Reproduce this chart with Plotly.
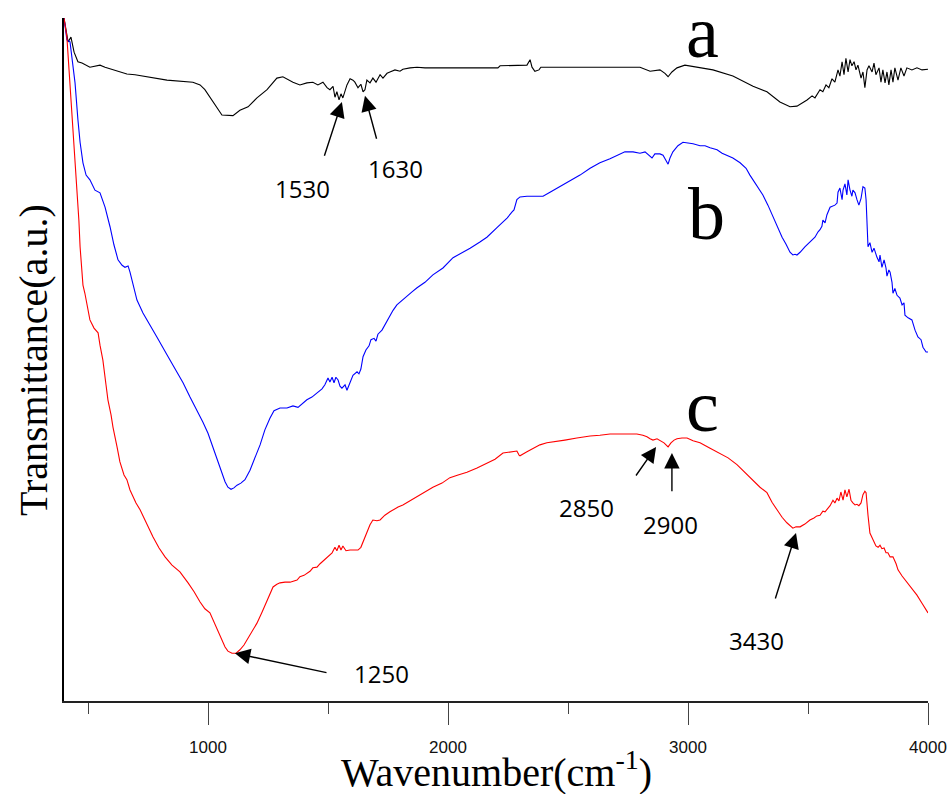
import plotly.graph_objects as go

# FTIR spectra: wavenumber (cm^-1) vs transmittance (arbitrary units)
wn_a = [400, 417, 429, 442, 458, 475, 508, 529, 550, 571, 604, 633, 662, 696, 746, 829, 937, 967, 987, 1008,
        1033, 1058, 1104, 1133, 1167, 1204, 1246, 1287, 1312, 1354, 1383, 1412, 1437, 1458, 1479, 1496, 1508,
        1521, 1529, 1537, 1546, 1554, 1562, 1579, 1592, 1604, 1612, 1625, 1637, 1646, 1654, 1662, 1675, 1687,
        1700, 1717, 1729, 1746, 1758, 1779, 1800, 1812, 1842, 1871, 1904, 1937, 2062, 2208, 2217, 2287, 2300,
        2329, 2342, 2350, 2362, 2379, 2387, 2800, 2842, 2883, 2904, 2917, 2933, 2954, 2987, 3037, 3104, 3187,
        3271, 3329, 3383, 3425, 3454, 3496, 3517, 3529, 3550, 3562, 3575, 3587, 3600, 3612, 3625, 3633, 3642,
        3650, 3658, 3667, 3675, 3683, 3692, 3700, 3708, 3721, 3729, 3737, 3746, 3754, 3767, 3775, 3783, 3796,
        3804, 3812, 3821, 3829, 3837, 3846, 3854, 3862, 3875, 3887, 3900, 3912, 3933, 3954, 3975, 4000]
t_a = [100.0, 96.5, 97.2, 95.0, 93.6, 93.4, 92.8, 93.0, 93.1, 92.8, 92.4, 92.1, 91.8, 91.7, 91.4, 90.9, 90.6,
       90.2, 89.5, 88.4, 87.1, 85.8, 85.7, 86.5, 87.0, 88.3, 89.5, 91.2, 91.4, 90.6, 90.2, 90.5, 90.6, 90.2,
       90.6, 89.8, 89.5, 90.0, 88.4, 89.2, 88.0, 88.9, 88.3, 90.2, 91.1, 90.9, 90.6, 89.8, 90.3, 89.2, 89.5,
       90.9, 90.5, 91.2, 90.6, 91.7, 91.2, 91.9, 92.1, 92.4, 92.2, 92.5, 92.7, 92.8, 92.7, 92.7, 92.7, 92.7,
       93.0, 93.0, 93.1, 93.1, 93.9, 92.8, 92.2, 92.4, 92.8, 92.8, 92.2, 92.4, 91.9, 91.4, 92.1, 92.7, 93.1,
       92.8, 92.4, 91.5, 90.0, 89.2, 87.7, 87.0, 87.1, 88.0, 88.6, 88.3, 89.5, 89.2, 90.2, 89.8, 91.1, 90.6,
       92.4, 91.5, 93.6, 91.7, 94.1, 92.1, 93.9, 93.0, 93.6, 92.4, 93.1, 91.2, 92.1, 89.8, 92.4, 93.0, 92.1,
       93.4, 91.7, 92.7, 90.6, 92.4, 90.5, 92.1, 90.2, 92.4, 90.6, 92.7, 90.9, 92.7, 91.5, 92.7, 92.4, 92.7,
       92.4, 92.5]

wn_b = [400, 412, 425, 433, 446, 458, 467, 479, 492, 508, 529, 550, 571, 592, 608, 625, 642, 654, 667, 675,
        704, 729, 758, 787, 829, 871, 896, 925, 954, 979, 1000, 1017, 1029, 1046, 1058, 1071, 1083, 1096, 1108,
        1121, 1137, 1154, 1175, 1196, 1217, 1237, 1258, 1275, 1300, 1329, 1354, 1375, 1396, 1412, 1433, 1454,
        1475, 1487, 1500, 1508, 1517, 1525, 1533, 1542, 1550, 1558, 1571, 1579, 1592, 1604, 1621, 1629, 1637,
        1646, 1658, 1671, 1679, 1692, 1700, 1708, 1725, 1737, 1750, 1771, 1787, 1812, 1829, 1850, 1871, 1904,
        1937, 1979, 2021, 2058, 2092, 2133, 2162, 2204, 2246, 2267, 2275, 2287, 2300, 2329, 2362, 2396, 2425,
        2454, 2487, 2521, 2550, 2592, 2633, 2675, 2704, 2737, 2771, 2800, 2821, 2842, 2850, 2862, 2883, 2896,
        2908, 2917, 2925, 2937, 2958, 2979, 3000, 3021, 3050, 3071, 3092, 3121, 3142, 3162, 3187, 3217, 3242,
        3258, 3271, 3292, 3312, 3333, 3354, 3375, 3392, 3408, 3425, 3437, 3446, 3454, 3467, 3487, 3508, 3529,
        3542, 3550, 3558, 3562, 3571, 3579, 3592, 3604, 3612, 3621, 3625, 3633, 3642, 3646, 3654, 3662, 3667,
        3675, 3683, 3687, 3696, 3704, 3712, 3721, 3729, 3737, 3742, 3750, 3758, 3767, 3775, 3787, 3796, 3800,
        3808, 3817, 3825, 3829, 3837, 3842, 3850, 3854, 3862, 3871, 3883, 3892, 3900, 3904, 3917, 3933, 3946,
        3958, 3971, 3979, 3992, 4000]
t_b = [100.0, 96.8, 96.5, 93.9, 90.5, 85.1, 81.8, 78.8, 77.0, 76.3, 74.8, 74.4, 72.3, 69.4, 66.8, 64.6, 63.8,
       63.5, 63.7, 62.8, 58.7, 56.8, 55.1, 53.3, 50.7, 48.0, 46.6, 44.5, 42.6, 40.8, 39.2, 37.5, 36.5, 34.6,
       33.4, 32.1, 31.3, 31.0, 31.2, 31.6, 31.9, 32.4, 33.8, 35.6, 37.5, 39.7, 41.4, 42.5, 42.9, 42.9, 43.2,
       43.0, 43.6, 44.1, 44.5, 45.1, 45.7, 46.3, 47.3, 46.7, 47.4, 46.6, 47.4, 47.0, 46.1, 45.8, 46.3, 45.5,
       46.6, 47.7, 48.2, 47.9, 48.6, 50.4, 51.4, 52.0, 52.9, 53.1, 52.7, 53.7, 54.3, 55.1, 55.9, 57.2, 58.0,
       58.7, 59.3, 59.9, 60.5, 61.3, 62.4, 63.4, 64.9, 65.6, 66.3, 67.2, 67.9, 69.3, 70.7, 71.6, 71.9, 73.4,
       73.8, 73.9, 73.9, 73.9, 74.5, 75.1, 75.7, 76.4, 77.0, 78.0, 78.8, 79.4, 79.9, 80.4, 80.4, 80.2, 80.4,
       79.8, 79.5, 80.1, 80.1, 79.9, 79.2, 78.6, 79.5, 80.4, 81.3, 81.8, 81.7, 81.6, 81.3, 81.3, 81.0, 80.7,
       80.2, 79.9, 79.5, 78.8, 78.0, 77.0, 76.3, 75.1, 74.1, 72.6, 70.9, 69.3, 67.9, 66.9, 65.7, 65.3, 65.4,
       65.3, 65.7, 66.5, 67.2, 67.9, 68.7, 69.0, 69.5, 70.4, 70.0, 71.2, 72.3, 72.5, 72.6, 72.9, 74.5, 75.1,
       73.4, 74.8, 75.7, 74.1, 76.3, 74.8, 73.9, 74.8, 74.4, 73.4, 72.6, 73.6, 75.3, 75.1, 73.4, 66.5, 67.1,
       65.7, 66.3, 65.0, 64.3, 65.3, 63.5, 64.6, 63.4, 62.2, 63.1, 62.8, 61.3, 59.7, 60.4, 59.4, 59.0, 58.0,
       58.3, 56.5, 56.1, 55.8, 54.3, 53.3, 52.9, 51.8, 51.1, 51.1]

wn_c = [400, 408, 412, 421, 433, 442, 454, 462, 467, 475, 479, 487, 500, 508, 525, 542, 550, 562, 575, 583,
        596, 604, 621, 633, 650, 662, 675, 683, 700, 717, 746, 771, 796, 821, 850, 883, 917, 942, 967, 987,
        1008, 1025, 1037, 1054, 1071, 1083, 1100, 1117, 1133, 1150, 1162, 1179, 1204, 1225, 1246, 1271, 1287,
        1300, 1321, 1342, 1371, 1383, 1400, 1412, 1425, 1437, 1454, 1467, 1479, 1492, 1504, 1517, 1529, 1537,
        1546, 1554, 1562, 1575, 1592, 1608, 1625, 1637, 1646, 1654, 1662, 1675, 1687, 1704, 1717, 1737, 1758,
        1771, 1792, 1812, 1842, 1871, 1904, 1937, 1975, 2008, 2042, 2079, 2121, 2162, 2196, 2229, 2258, 2287,
        2296, 2300, 2329, 2354, 2383, 2412, 2437, 2487, 2537, 2592, 2633, 2675, 2717, 2758, 2787, 2812, 2829,
        2842, 2854, 2871, 2883, 2900, 2917, 2929, 2942, 2954, 2975, 2996, 3021, 3050, 3092, 3133, 3167, 3204,
        3237, 3271, 3300, 3329, 3350, 3371, 3392, 3412, 3425, 3437, 3450, 3467, 3487, 3508, 3525, 3537, 3550,
        3562, 3571, 3579, 3592, 3604, 3612, 3621, 3629, 3637, 3646, 3654, 3662, 3671, 3679, 3687, 3696, 3704,
        3712, 3721, 3729, 3737, 3742, 3750, 3758, 3771, 3783, 3792, 3800, 3808, 3817, 3825, 3833, 3842, 3854,
        3867, 3875, 3892, 3912, 3933, 3954, 3975, 3987, 3996, 4000]
t_c = [100.0, 98.5, 97.2, 92.4, 86.1, 80.7, 75.3, 70.4, 66.5, 62.8, 60.9, 59.7, 57.2, 55.8, 54.6, 53.9, 52.1,
       49.9, 46.3, 44.1, 41.9, 40.1, 37.2, 35.0, 33.1, 32.4, 30.9, 30.2, 29.0, 28.0, 25.8, 24.0, 22.4, 21.1,
       19.9, 18.9, 17.3, 16.0, 14.5, 13.5, 12.9, 11.6, 10.7, 9.2, 7.9, 7.3, 7.0, 7.0, 7.5, 8.2, 8.9, 10.1,
       11.4, 13.0, 14.8, 16.7, 17.1, 17.3, 17.4, 17.4, 17.7, 18.2, 18.4, 18.7, 19.0, 19.5, 19.6, 20.1, 20.5,
       20.9, 21.2, 21.7, 22.5, 22.0, 22.8, 22.1, 22.7, 22.0, 22.1, 22.1, 22.1, 22.5, 23.3, 24.0, 24.6, 25.8,
       26.5, 26.4, 26.5, 27.2, 27.7, 28.0, 28.4, 28.7, 29.3, 29.9, 30.6, 31.3, 31.9, 32.7, 33.1, 33.5, 34.1,
       34.8, 35.4, 36.3, 36.5, 36.6, 36.0, 35.9, 36.5, 37.0, 37.5, 37.8, 37.9, 38.2, 38.5, 38.8, 38.9, 39.1,
       39.1, 39.1, 39.1, 38.9, 38.7, 38.4, 38.2, 38.4, 38.2, 37.8, 37.2, 37.8, 38.2, 38.4, 38.5, 38.5, 38.1,
       37.8, 37.0, 36.3, 35.6, 34.6, 33.5, 32.4, 31.3, 30.5, 29.1, 28.0, 26.9, 26.1, 25.6, 25.3, 25.5, 25.5,
       25.9, 26.5, 26.8, 27.1, 27.2, 27.8, 27.7, 28.0, 28.6, 29.4, 29.0, 29.7, 29.3, 30.6, 29.4, 30.9, 29.9,
       31.0, 29.4, 29.0, 28.7, 28.8, 28.6, 29.0, 30.2, 30.7, 30.5, 27.2, 24.6, 23.6, 22.7, 22.5, 22.8, 22.3,
       22.4, 21.7, 21.7, 21.1, 21.1, 20.1, 19.2, 18.3, 17.4, 16.5, 15.5, 14.3, 13.6, 13.0, 12.9]

# Curve tags (text, wavenumber, transmittance)
curve_tags = [("a", 3062, 98.0), ("b", 3075, 71.3), ("c", 3062, 43.2)]

# Band annotations: label, label position, arrow tip, arrow tail
band_labels = ["1530", "1630", "1250", "2850", "2900", "3430"]
label_wn = [1392, 1783, 1721, 2575, 2929, 3287]
label_t = [75.0, 77.9, 4.0, 28.4, 25.9, 8.8]
tip_wn = [1558, 1654, 1112, 2867, 2933, 3450]
tip_t = [87.7, 88.6, 7.0, 37.2, 36.3, 24.6]
tail_wn = [1483, 1704, 1500, 2779, 2933, 3362]
tail_t = [79.6, 82.1, 4.1, 32.8, 30.5, 14.8]

x_major = [1000, 2000, 3000, 4000]
x_minor = [500, 1500, 2500, 3500]

fig = go.Figure()
for wn, t, col in [(wn_a, t_a, "#000000"), (wn_b, t_b, "#0000ff"), (wn_c, t_c, "#ff0000")]:
    fig.add_trace(go.Scatter(x=wn, y=t, mode="lines", line=dict(color=col, width=1.1),
                             showlegend=False, hoverinfo="skip"))

annotations = []
for txt, x, y in curve_tags:
    annotations.append(dict(x=x, y=y, xref="x", yref="y", text=txt, showarrow=False,
                            font=dict(family="Liberation Serif", size=74, color="black"),
                            xanchor="center", yanchor="middle"))

for lab, lx, ly, tx, ty, ax, ay in zip(band_labels, label_wn, label_t, tip_wn, tip_t, tail_wn, tail_t):
    annotations.append(dict(x=tx, y=ty, xref="x", yref="y", ax=ax, ay=ay, axref="x", ayref="y",
                            text="", showarrow=True, arrowhead=2, arrowsize=2.2, arrowwidth=1.4,
                            arrowcolor="black", standoff=0, startstandoff=0))
    annotations.append(dict(x=lx, y=ly, xref="x", yref="y", text=lab, showarrow=False,
                            font=dict(family="Open Sans", size=24, color="black"),
                            xanchor="center", yanchor="middle"))

annotations.append(dict(x=0.5, y=-0.1, xref="paper", yref="paper",
                        text="Wavenumber(cm<sup>-1</sup>)", showarrow=False,
                        font=dict(family="Liberation Serif", size=40, color="black"),
                        xanchor="center", yanchor="middle"))
annotations.append(dict(x=-0.036, y=0.499, xref="paper", yref="paper",
                        text="Transmittance(a.u.)", showarrow=False, textangle=-90,
                        font=dict(family="Liberation Serif", size=40, color="black"),
                        xanchor="center", yanchor="middle"))

fig.update_layout(
    width=952, height=794, autosize=False,
    margin=dict(l=64, r=24, t=18, b=93, autoexpand=False),
    paper_bgcolor="white", plot_bgcolor="white",
    annotations=annotations,
    xaxis=dict(range=[400, 4000], showgrid=False, zeroline=False, automargin=False,
               showline=True, linecolor="#222222", linewidth=1.6,
               tickmode="array", tickvals=x_major, ticktext=[str(v) for v in x_major],
               ticks="outside", ticklen=22, tickwidth=1, tickcolor="#444444",
               ticklabelstandoff=8,
               tickfont=dict(family="Liberation Sans", size=17, color="#111111"),
               minor=dict(tickmode="array", tickvals=x_minor, ticks="outside",
                          ticklen=11, tickwidth=1, tickcolor="#444444")),
    yaxis=dict(range=[0, 100], showgrid=False, zeroline=False, automargin=False,
               showline=True, linecolor="black", linewidth=2,
               ticks="", showticklabels=False),
)

fig.write_html("out.html", config={"displayModeBar": False})
